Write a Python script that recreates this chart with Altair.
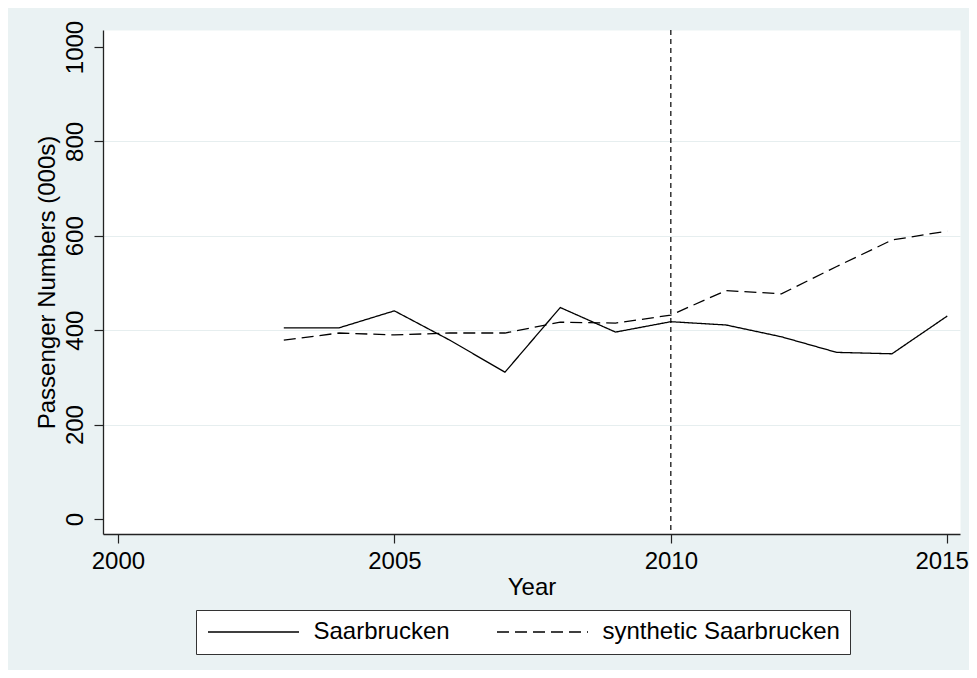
import altair as alt
import pandas as pd

years = [2003, 2004, 2005, 2006, 2007, 2008, 2009, 2010, 2011, 2012, 2013, 2014, 2015]
saarbrucken = [405, 405, 441, 379, 311, 448, 396, 418, 411, 386, 353, 350, 430]
synthetic = [379, 394, 390, 394, 394, 417, 415, 432, 484, 477, 535, 591, 610]
series_names = ["Saarbrucken", "synthetic Saarbrucken"]
treatment_year = [2010]
y_ticks = [0, 200, 400, 600, 800, 1000]
x_ticks = [2000, 2005, 2010, 2015]

df = pd.DataFrame({
    "Year": years + years,
    "Passengers": saarbrucken + synthetic,
    "Series": [series_names[0]] * len(years) + [series_names[1]] * len(years),
})
rule_df = pd.DataFrame({"Year": treatment_year})

FONT = "Liberation Sans"
x_scale = alt.Scale(domain=[1999.73, 2015.23], nice=False, zero=False)
y_scale = alt.Scale(domain=[-31.8, 1036], nice=False, zero=False)

x_axis = alt.Axis(
    values=x_ticks, format="d", title="Year", grid=False,
    labelFont=FONT, labelFontSize=24, labelColor="black", labelPadding=6,
    labelOverlap=False, labelBound=False,
    labelFlush=13.8, labelFlushOffset=21,
    titleFont=FONT, titleFontSize=24, titleFontWeight="normal", titleColor="black",
    titlePadding=2, tickSize=9, tickColor="#222", tickWidth=1.2,
    domainColor="#222", domainWidth=1.3,
)
y_axis = alt.Axis(
    values=y_ticks, format="d", title="Passenger Numbers (000s)",
    labelAngle=270, labelAlign="center", labelBaseline="bottom",
    labelFont=FONT, labelFontSize=24, labelColor="black", labelPadding=7,
    titleFont=FONT, titleFontSize=24, titleFontWeight="normal", titleColor="black",
    titlePadding=4, tickSize=9, tickColor="#222", tickWidth=1.2,
    domainColor="#222", domainWidth=1.3,
    gridColor={"condition": {"test": "datum.value === 0 || datum.value === 1000",
                             "value": "transparent"}, "value": "#e6eeef"},
    gridWidth=1,
)

legend = alt.Legend(
    title=None, orient="none", legendX=93, legendY=580,
    direction="horizontal", columns=2, columnPadding=44,
    symbolType="M-4.55,0L4.55,0", symbolSize=400, symbolStrokeWidth=1.5,
    symbolStrokeColor="black", symbolFillColor="transparent",
    symbolOffset=35.5, labelOffset=48,
    labelFont=FONT, labelFontSize=24, labelColor="black", labelLimit=400,
    padding=10, fillColor="white", strokeColor="#333",
)

lines = alt.Chart(df).mark_line(color="black", strokeWidth=1.3).encode(
    x=alt.X("Year:Q", scale=x_scale, axis=x_axis),
    y=alt.Y("Passengers:Q", scale=y_scale, axis=y_axis),
    strokeDash=alt.StrokeDash(
        "Series:N",
        scale=alt.Scale(domain=series_names, range=[[1, 0], [12, 6]]),
        legend=legend,
    ),
)

rule = alt.Chart(rule_df).mark_rule(color="black", strokeDash=[5, 4], strokeWidth=1.2).encode(
    x=alt.X("Year:Q", scale=x_scale)
)

chart = alt.layer(lines, rule).properties(
    width=857, height=504,
    background="#eaf2f3",
    autosize=alt.AutoSizeParams(type="none"),
    padding={"left": 95, "top": 22, "right": 9, "bottom": 136},
).configure_view(fill="white", stroke="transparent")

chart.save("out.html", embed_options={"renderer": "svg", "actions": False})
